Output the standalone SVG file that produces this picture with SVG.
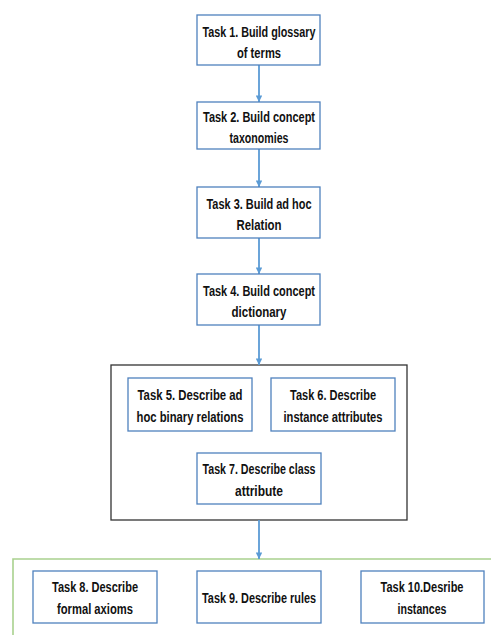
<svg xmlns="http://www.w3.org/2000/svg" width="491" height="635" viewBox="0 0 491 635">
<defs>
<marker id="ah" viewBox="0 0 10 10" refX="10" refY="5" markerWidth="4.5" markerHeight="3.6" orient="auto" markerUnits="strokeWidth">
<path d="M0,0 L10,5 L0,10 z" fill="#5B9BD5"/>
</marker>
<style>
.box{fill:#ffffff;stroke:#4F81BD;stroke-width:1.3}
.t{font-family:"Liberation Sans",Arial,sans-serif;font-weight:bold;font-size:15.5px;fill:#111;text-anchor:middle}
.s{font-size:14.5px}
.c{stroke:#5B9BD5;stroke-width:1.8;fill:none;marker-end:url(#ah)}
</style>
</defs>
<rect width="491" height="635" fill="#ffffff"/>
<g id="group-outer">
<rect x="111" y="365" width="296" height="155" fill="#ffffff" stroke="#333333" stroke-width="1.3"/>
</g>
<g id="group-green">
<path d="M13,635 L13,559 L491,559" fill="none" stroke="#A9D18E" stroke-width="1.6"/>
</g>
<g id="connectors">
<line class="c" x1="259" y1="65" x2="259" y2="102"/>
<line class="c" x1="259" y1="149" x2="259" y2="187"/>
<line class="c" x1="259" y1="238" x2="259" y2="274"/>
<line class="c" x1="259" y1="325" x2="259" y2="365"/>
<line class="c" x1="259" y1="520" x2="259" y2="559"/>
</g>
<g id="task1">
<rect class="box" x="197" y="15" width="123" height="50"/>
<text class="t" x="259" y="37" textLength="113" lengthAdjust="spacingAndGlyphs">Task 1. Build glossary</text>
<text class="t" x="259" y="58" textLength="44" lengthAdjust="spacingAndGlyphs">of terms</text>
</g>
<g id="task2">
<rect class="box" x="197" y="102" width="123" height="47"/>
<text class="t" x="259" y="122" textLength="112" lengthAdjust="spacingAndGlyphs">Task 2. Build concept</text>
<text class="t" x="259" y="143" textLength="59" lengthAdjust="spacingAndGlyphs">taxonomies</text>
</g>
<g id="task3">
<rect class="box" x="197" y="187" width="123" height="51"/>
<text class="t" x="259" y="209" textLength="105" lengthAdjust="spacingAndGlyphs">Task 3. Build ad hoc</text>
<text class="t" x="259" y="230" textLength="45" lengthAdjust="spacingAndGlyphs">Relation</text>
</g>
<g id="task4">
<rect class="box" x="197" y="274" width="123" height="51"/>
<text class="t" x="259" y="296" textLength="112" lengthAdjust="spacingAndGlyphs">Task 4. Build concept</text>
<text class="t" x="259" y="317" textLength="55" lengthAdjust="spacingAndGlyphs">dictionary</text>
</g>
<g id="task5">
<rect class="box" x="128" y="378" width="124" height="53"/>
<text class="t" x="190" y="400" textLength="105" lengthAdjust="spacingAndGlyphs">Task 5. Describe ad</text>
<text class="t" x="190" y="422" textLength="107" lengthAdjust="spacingAndGlyphs">hoc binary relations</text>
</g>
<g id="task6">
<rect class="box" x="271" y="378" width="124" height="53"/>
<text class="t" x="333" y="400" textLength="86" lengthAdjust="spacingAndGlyphs">Task 6. Describe</text>
<text class="t" x="333" y="422" textLength="99" lengthAdjust="spacingAndGlyphs">instance attributes</text>
</g>
<g id="task7">
<rect class="box" x="197" y="453" width="124" height="51"/>
<text class="t" x="259" y="474" textLength="113" lengthAdjust="spacingAndGlyphs">Task 7. Describe class</text>
<text class="t" x="259" y="496" textLength="48" lengthAdjust="spacingAndGlyphs">attribute</text>
</g>
<g id="task8">
<rect class="box" x="33" y="571" width="124" height="52"/>
<text class="t" x="95" y="592" textLength="86" lengthAdjust="spacingAndGlyphs">Task 8. Describe</text>
<text class="t" x="95" y="614" textLength="76" lengthAdjust="spacingAndGlyphs">formal axioms</text>
</g>
<g id="task9">
<rect class="box" x="197" y="571" width="124" height="52"/>
<text class="t" x="259" y="603" textLength="114" lengthAdjust="spacingAndGlyphs">Task 9. Describe rules</text>
</g>
<g id="task10">
<rect class="box" x="361" y="571" width="123" height="52"/>
<text class="t s" x="422" y="592" textLength="83" lengthAdjust="spacingAndGlyphs">Task 10.Desribe</text>
<text class="t s" x="422" y="614" textLength="49" lengthAdjust="spacingAndGlyphs">instances</text>
</g>
</svg>
